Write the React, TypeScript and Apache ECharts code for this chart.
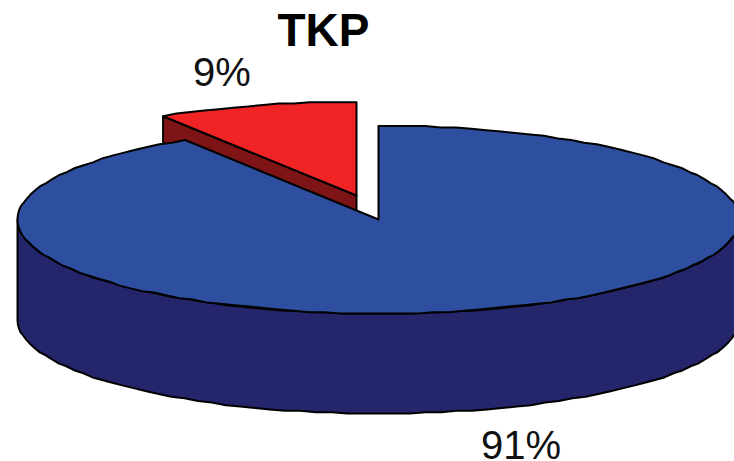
import React, { useEffect, useRef } from "react";
import * as echarts from "echarts";

const chartTitle = "TKP";
const sliceNames = ["Slice A", "Slice B"];
const sliceValues = [9, 91];
const sliceLabels = ["9%", "91%"];
const topColors = ["#f02425", "#2e4fa0"];
const wallColors = ["#7e1416", "#24256b"];

const FONT = '"Liberation Sans", Arial, sans-serif';
const W = 734;
const H = 461;
const CX = 378.5;
const CY = 219.5;
const RX = 361;
const RY = 94;
const DEPTH = 100;
const EXPLODE = [
  [-22, -24],
  [0, 0],
];
const LABEL_POS = [
  [222, 72],
  [521, 445],
];
const STEP = 2.5;

const total = sliceValues.reduce((a, b) => a + b, 0);

function rim(cx: number, cy: number, a: number) {
  const r = (a * Math.PI) / 180;
  // quantised like the reference's coarse vector outline
  return [
    cx + RX * Math.sin(r),
    Math.round((cy - RY * Math.cos(r)) / 1.4) * 1.4,
  ];
}

function arcPoints(cx: number, cy: number, from: number, to: number) {
  const pts: number[][] = [];
  const n = Math.max(2, Math.ceil((to - from) / STEP));
  for (let i = 0; i <= n; i++) pts.push(rim(cx, cy, from + ((to - from) * i) / n));
  return pts;
}

function renderSlice(params: any, api: any) {
  const idx = params.dataIndex;
  const before = sliceValues.slice(0, idx).reduce((a, b) => a + b, 0);
  const start = ((before - sliceValues[0]) / total) * 360;
  const end = start + (api.value(0) / total) * 360;
  const cx = CX + EXPLODE[idx][0];
  const cy = CY + EXPLODE[idx][1];
  const line = { stroke: "#000", lineWidth: 2, lineJoin: "round" };
  const children: any[] = [];

  const arc = arcPoints(cx, cy, start, end);

  // radial wall on the start side, hidden by later slices where it runs behind them
  if (start < 0) {
    const a = rim(cx, cy, start);
    children.push({
      type: "polygon",
      shape: {
        points: [
          [a[0], a[1]],
          [cx, cy],
          [cx, cy + DEPTH],
          [a[0], a[1] + DEPTH],
        ],
      },
      style: { fill: wallColors[idx], ...line },
    });
  }

  // outer wall, for the front half of the rim only
  const wallFrom = Math.max(start, 90);
  const wallTo = Math.min(end, 270);
  if (wallTo > wallFrom) {
    const outer = arcPoints(cx, cy, wallFrom, wallTo);
    const lower = outer.map((p) => [p[0], p[1] + DEPTH]).reverse();
    children.push({
      type: "polygon",
      shape: { points: outer.concat(lower) },
      style: { fill: wallColors[idx], ...line },
    });
  }

  // top face
  children.push({
    type: "polygon",
    shape: { points: [[cx, cy], ...arc] },
    style: { fill: topColors[idx], ...line },
  });

  // percentage label
  children.push({
    type: "text",
    style: {
      text: sliceLabels[idx],
      x: LABEL_POS[idx][0],
      y: LABEL_POS[idx][1],
      align: "center",
      verticalAlign: "middle",
      lineHeight: 30,
      fontFamily: FONT,
      fontSize: 40,
      fill: "#111",
    },
  });

  return { type: "group", children };
}

export default function App() {
  const ref = useRef<HTMLDivElement>(null);
  useEffect(() => {
    document.body.style.margin = "0";
    const chart = echarts.init(ref.current!, null, { renderer: "svg" });
    chart.setOption({
      animation: false,
      backgroundColor: "#fff",
      title: {
        text: chartTitle,
        left: 318.5,
        top: 2,
        textAlign: "center",
        textStyle: {
          fontFamily: FONT,
          fontSize: 46,
          fontWeight: "bold",
          color: "#000",
        },
      },
      series: [
        {
          type: "custom",
          coordinateSystem: "none",
          silent: true,
          clip: false,
          renderItem: renderSlice,
          data: sliceValues.map((value, i) => ({
            name: sliceNames[i],
            value: [value],
          })),
        },
      ],
    });
    return () => chart.dispose();
  }, []);
  return <div ref={ref} style={{ width: W, height: H }} />;
}
